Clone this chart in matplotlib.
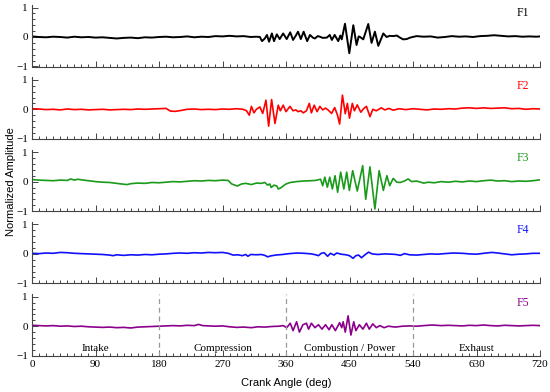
import matplotlib
matplotlib.use("Agg")
import matplotlib.pyplot as plt
from matplotlib.ticker import MultipleLocator

# crank angle (deg) / normalized amplitude
f1_deg = [0, 10, 20, 30, 40, 50, 60, 70, 80, 90, 100, 110, 120, 130, 140, 150, 160, 170, 180,
          190, 200, 210, 220, 230, 240, 250, 260, 270, 280, 290, 300, 310, 318,
          323, 326, 330, 333, 336, 340, 343, 347, 351, 356, 361, 366, 370, 374, 377, 381, 385,
          390, 394, 398, 401, 405, 408, 412, 418, 422, 425, 429, 434, 437, 439, 443.6, 449.7,
          455.4, 460, 463, 465, 469.5, 476.6, 481.3, 486, 490.8, 497.9, 502.6, 507, 512, 517,
          521.5, 526, 531, 536, 545, 555, 565, 575, 585, 595, 605, 615, 625, 635, 645, 655, 665,
          675, 685, 695, 705, 715, 720]
f1_amp = [0.02, 0.0, -0.01, 0.01, 0.0, -0.02, 0.01, -0.01, 0.0, -0.02, -0.01, -0.03, -0.05, -0.03,
          -0.02, -0.04, -0.01, -0.02, 0.0, 0.01, -0.01, 0.0, 0.02, -0.01, 0.01, 0.0, 0.03, 0.02,
          0.04, 0.02, 0.03, 0.0, 0.01,
          0.0, -0.14, -0.05, 0.07, -0.16, 0.12, -0.14, 0.09, -0.07, 0.12, -0.07, 0.16, -0.1, 0.05,
          0.18, -0.07, 0.18, -0.14, 0.07, -0.02, -0.05, 0.03, 0.01, -0.03, -0.02, 0.07, -0.1, 0.07,
          -0.14, 0.05, -0.08, 0.45, -0.55, 0.4, -0.27, 0.02, 0.0, -0.08, 0.44, -0.2, 0.18, -0.3,
          0.12, 0.0, 0.04, 0.03, 0.05, -0.02, -0.08, -0.07, -0.02, 0.03, 0.01, 0.02, -0.02, 0.0,
          0.03, 0.01, 0.02, 0.0, 0.03, 0.04, 0.06, 0.04, 0.02, 0.03, 0.01, 0.02, 0.01, 0.02]

f2_deg = [0, 10, 20, 30, 40, 50, 60, 70, 80, 90, 100, 110, 120, 130, 140, 150, 160, 170, 180, 190,
          196, 203, 211, 220, 230, 240, 250, 260, 270, 280, 290, 299, 304, 308, 311, 314.6, 318,
          323, 327, 331.6, 335.4, 339.6, 344.4, 349, 352, 356, 360, 365.6, 370, 374, 377, 381,
          384.5, 389, 393, 396, 400, 404, 408, 412, 416, 420, 424.6, 429, 433, 436, 440, 444, 447,
          450, 454, 457, 461, 466, 470, 474, 479, 483, 488, 495, 500, 506, 512, 520, 530, 540,
          550, 560, 570, 580, 590, 600, 610, 620, 630, 640, 650, 660, 670, 680, 690, 700, 710, 720]
f2_amp = [0.02, 0.01, -0.01, 0.0, -0.02, 0.01, -0.01, 0.0, -0.02, -0.01, 0.0, -0.02, -0.01, 0.0,
          -0.01, 0.01, 0.0, 0.01, 0.02, 0.03, -0.06, -0.07, -0.04, 0.0, 0.01, -0.01, 0.0, -0.01,
          0.01, 0.0, 0.02, 0.0, -0.05, -0.2, 0.1, -0.12, 0.0, 0.08, -0.14, 0.31, -0.57, 0.33, -0.48,
          0.14, -0.05, 0.14, -0.08, 0.1, -0.05, -0.02, -0.08, -0.05, -0.12, -0.05, 0.2, -0.12,
          0.14, -0.08, 0.1, -0.02, 0.04, -0.03, -0.14, 0.06, -0.2, -0.5, 0.48, -0.15, 0.2, -0.3,
          0.2, -0.05, 0.15, -0.1, 0.02, 0.1, -0.25, 0.0, -0.05, 0.05, -0.02, 0.03, -0.03, 0.02,
          -0.01, 0.02, 0.0, -0.02, 0.01, 0.0, 0.02, 0.01, 0.04, 0.05, 0.03, 0.05, 0.03, 0.04, 0.05,
          0.02, 0.03, 0.0, 0.02, 0.01]

f3_deg = [0, 10, 20, 30, 40, 50, 55, 60, 65, 70, 80, 90, 100, 110, 120, 130, 135, 140, 150, 160,
          170, 180, 190, 200, 210, 220, 230, 240, 250, 260, 270, 278, 283, 291, 297, 303, 311, 318,
          325, 330, 334, 337, 339, 343, 347, 349, 352, 356, 360, 366, 375, 385, 395, 402, 409,
          412, 415, 418.6, 422, 425.7, 429.5, 433.2, 437.5, 442, 446, 449.8, 454.5, 461, 468.7,
          473, 479, 486, 492, 498, 503, 507, 512, 517, 522, 528, 533, 538, 545, 555, 562, 570, 580,
          590, 600, 610, 620, 630, 640, 650, 660, 670, 680, 690, 700, 710, 720]
f3_amp = [0.07, 0.05, 0.04, 0.03, 0.05, 0.04, 0.09, 0.05, 0.08, 0.06, 0.03, 0.0, -0.02, -0.03,
          -0.06, -0.09, -0.1, -0.07, -0.05, -0.06, -0.03, -0.04, -0.02, 0.0, -0.01, 0.01, 0.03,
          0.02, 0.04, 0.03, 0.05, 0.04, -0.08, -0.15, -0.08, -0.06, -0.1, -0.05, -0.06, -0.03,
          -0.12, -0.08, -0.2, -0.12, -0.15, -0.25, -0.22, -0.15, -0.08, -0.03, 0.0, 0.02, 0.03,
          0.04, 0.08, -0.14, 0.15, -0.19, 0.15, -0.25, 0.2, -0.36, 0.32, -0.25, 0.32, -0.3, 0.37,
          -0.32, 0.54, -0.6, 0.5, -0.93, 0.37, -0.3, 0.2, -0.14, 0.11, -0.02, -0.03, 0.02, 0.09,
          0.0, 0.02, -0.05, -0.02, -0.04, 0.0, -0.02, 0.01, -0.01, 0.02, 0.0, 0.03, 0.05, 0.02,
          0.03, 0.0, 0.02, 0.01, 0.03, 0.06]

f4_deg = [0, 10, 20, 30, 40, 50, 60, 70, 80, 90, 100, 110, 115, 120, 130, 140, 150, 160, 170, 180,
          190, 200, 210, 220, 230, 240, 250, 260, 270, 278, 285, 292, 298, 303, 306, 310, 318,
          325, 330, 334, 338, 345, 355, 365, 376, 386, 396, 402, 406, 410, 414, 419, 423, 428,
          432, 438, 445, 450, 455, 459, 463, 467, 472, 477, 482, 490, 500, 510, 516, 522, 528,
          535, 545, 555, 565, 575, 585, 597, 610, 620, 630, 640, 652, 660, 670, 680, 690, 700,
          710, 720]
f4_amp = [0.02, 0.01, 0.03, 0.02, 0.05, 0.04, 0.02, 0.01, 0.0, -0.01, -0.02, -0.04, -0.06, -0.03,
          -0.05, -0.03, -0.04, -0.02, -0.03, -0.01, 0.0, 0.02, 0.03, 0.02, 0.04, 0.03, 0.05, 0.04,
          0.05, 0.02, -0.04, -0.03, -0.06, -0.02, -0.08, -0.02, -0.03, -0.02, -0.05, -0.1, -0.07,
          -0.04, -0.02, 0.01, 0.03, 0.02, 0.0, -0.03, -0.06, 0.02, 0.04, -0.08, 0.02, -0.04, 0.03,
          -0.01, -0.03, -0.06, -0.15, -0.06, -0.04, -0.13, -0.03, 0.06, 0.0, -0.02, 0.0, -0.01,
          -0.02, -0.05, 0.01, -0.03, -0.04, -0.02, 0.0, -0.01, 0.01, 0.03, 0.02, 0.0, -0.01, 0.02,
          0.05, 0.03, 0.0, -0.03, -0.01, 0.0, 0.02, 0.02]

f5_deg = [0, 10, 20, 30, 40, 50, 60, 70, 80, 90, 100, 110, 120, 130, 140, 150, 160, 170, 180, 190,
          200, 210, 220, 230, 236, 242, 250, 260, 270, 280, 290, 300, 311, 320, 330, 340, 350,
          356, 361, 366, 370, 375, 379, 384, 389, 392, 396, 401, 406, 411, 416, 421, 425, 430,
          436, 439, 441, 444, 448, 452, 456, 459, 464, 469, 474, 478, 483, 488, 493, 499, 505,
          515, 525, 535, 545, 555, 567, 580, 590, 600, 610, 620, 630, 640, 650, 660, 670, 680,
          690, 700, 710, 720]
f5_amp = [0.03, 0.02, 0.01, 0.02, 0.0, 0.01, -0.01, 0.0, -0.02, -0.03, -0.04, -0.03, -0.05, -0.04,
          -0.06, -0.03, -0.02, -0.01, 0.0, 0.01, 0.02, 0.01, 0.03, 0.02, 0.06, 0.02, 0.01, 0.0,
          0.01, -0.02, -0.04, -0.03, -0.05, -0.02, -0.03, -0.01, 0.0, 0.02, -0.05, 0.1, -0.15,
          0.15, -0.2, 0.05, 0.1, -0.1, 0.1, -0.05, 0.05, -0.1, 0.05, -0.12, 0.05, -0.15, 0.12,
          -0.05, 0.15, -0.2, 0.35, -0.3, 0.15, -0.15, 0.05, -0.1, 0.1, -0.1, 0.08, -0.05, 0.02,
          -0.05, 0.0, -0.03, 0.0, 0.01, 0.0, 0.02, 0.04, 0.02, 0.03, 0.02, 0.01, 0.03, 0.02, 0.04,
          0.02, 0.01, 0.03, 0.02, 0.01, 0.02, 0.03, 0.02]

names = ["F1", "F2", "F3", "F4", "F5"]
colors = ["#000000", "#ff0000", "#1a9a1a", "#1010ff", "#8b008b"]
phases = ["Intake", "Compression", "Combustion / Power", "Exhaust"]
phase_mid = [90, 270, 450, 630]
phase_edges = [180, 360, 540]

series = [(f1_deg, f1_amp), (f2_deg, f2_amp), (f3_deg, f3_amp), (f4_deg, f4_amp), (f5_deg, f5_amp)]

W, H = 550, 392
fig = plt.figure(figsize=(W / 100, H / 100), dpi=100)
serif = "Liberation Serif"
sans = "Liberation Sans"

bottoms_px = [66.5, 138.8, 211.1, 283.4, 355.7]
px_per_unit = 29.5
ytop = 1.08

axes = []
for i, (deg, amp) in enumerate(series):
    b = 1 - bottoms_px[i] / H
    h = (ytop + 1) * px_per_unit / H
    ax = fig.add_axes([32 / W, b, (540 - 32) / W, h])
    ax.plot(deg, amp, color=colors[i], lw=1.4 if i == 0 else 1.2,
            solid_joinstyle="round")
    ax.set_xlim(0, 720)
    ax.set_ylim(-1, ytop)
    for s in ["top", "right"]:
        ax.spines[s].set_visible(False)
    for s in ["left", "bottom"]:
        ax.spines[s].set_color("#444444")
        ax.spines[s].set_linewidth(0.8)
    ax.xaxis.set_major_locator(MultipleLocator(90))
    ax.xaxis.set_minor_locator(MultipleLocator(10))
    ax.set_yticks([-1, 0, 1])
    ax.yaxis.set_minor_locator(MultipleLocator(0.2))
    ax.tick_params(which="both", direction="in", color="#444444", width=0.7,
                   labelsize=8, pad=3)
    ax.tick_params(which="major", length=4)
    ax.tick_params(which="minor", length=2)
    for lab in ax.get_yticklabels() + ax.get_xticklabels():
        lab.set_fontfamily(serif)
    if i < 4:
        ax.tick_params(axis="x", labelbottom=False)
    ax.text(696, 0.8, names[i], color=colors[i], fontsize=8.5, family=serif,
            ha="center", va="center")
    axes.append(ax)

ax5 = axes[-1]
for e in phase_edges:
    ax5.axvline(e, color="#9a9a9a", lw=0.9, ls=(0, (4, 3)))
for m, p in zip(phase_mid, phases):
    ax5.text(m, -0.74, p, family=serif, fontsize=8, ha="center", va="center")

fig.text(0.52, 0.022, "Crank Angle (deg)", family=sans, fontsize=8, ha="center", va="center")
fig.text(0.02, 0.537, "Normalized Amplitude", family=sans, fontsize=8, rotation=90,
         ha="center", va="center")

fig.savefig("out.png", dpi=100)
